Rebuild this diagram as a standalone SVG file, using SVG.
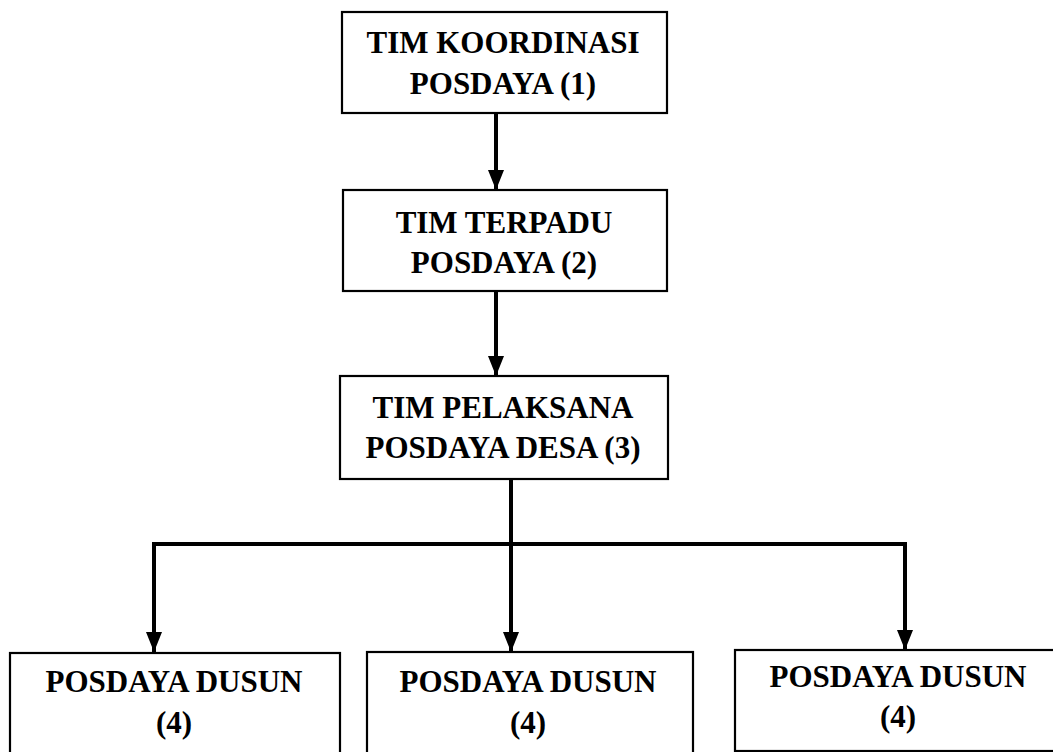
<svg xmlns="http://www.w3.org/2000/svg" width="1053" height="752" viewBox="0 0 1053 752">
<style>
.box{fill:#fff;stroke:#000;stroke-width:2.2}
.t{font-family:"Liberation Serif","Times New Roman",serif;font-weight:bold;font-size:31px;fill:#000;text-anchor:middle}
.c{fill:none;stroke:#000;stroke-width:4}
</style>
<defs>
<marker id="ah" markerUnits="userSpaceOnUse" markerWidth="20" markerHeight="16" refX="20" refY="8" orient="auto" viewBox="0 0 20 16">
<path d="M0,0 L20,8 L0,16 Z" fill="#000"/>
</marker>
</defs>
<rect width="1053" height="752" fill="#fff"/>
<g id="connectors">
<line class="c" x1="496" y1="113" x2="496" y2="190" marker-end="url(#ah)"/>
<line class="c" x1="496" y1="291" x2="496" y2="376" marker-end="url(#ah)"/>
<line class="c" x1="511" y1="479" x2="511" y2="544"/>
<line class="c" x1="152" y1="544" x2="907" y2="544"/>
<line class="c" x1="154" y1="542" x2="154" y2="652" marker-end="url(#ah)"/>
<line class="c" x1="511" y1="544" x2="511" y2="652" marker-end="url(#ah)"/>
<line class="c" x1="905" y1="542" x2="905" y2="650" marker-end="url(#ah)"/>
</g>
<g id="n1">
<rect class="box" x="342" y="12" width="325" height="101"/>
<text class="t" x="503" y="53">TIM KOORDINASI</text>
<text class="t" x="503" y="94">POSDAYA (1)</text>
</g>
<g id="n2">
<rect class="box" x="343" y="190" width="324" height="101"/>
<text class="t" x="504" y="233">TIM TERPADU</text>
<text class="t" x="504" y="273">POSDAYA (2)</text>
</g>
<g id="n3">
<rect class="box" x="340" y="376" width="328" height="103"/>
<text class="t" x="503" y="418">TIM PELAKSANA</text>
<text class="t" x="503" y="458">POSDAYA DESA (3)</text>
</g>
<g id="n4a">
<rect class="box" x="10" y="653" width="330" height="110"/>
<text class="t" x="174" y="692">POSDAYA DUSUN</text>
<text class="t" x="174" y="733">(4)</text>
</g>
<g id="n4b">
<rect class="box" x="367" y="652" width="326" height="110"/>
<text class="t" x="528" y="692">POSDAYA DUSUN</text>
<text class="t" x="528" y="733">(4)</text>
</g>
<g id="n4c">
<rect class="box" x="735" y="650" width="330" height="101"/>
<text class="t" x="898" y="687">POSDAYA DUSUN</text>
<text class="t" x="898" y="727">(4)</text>
</g>
</svg>
